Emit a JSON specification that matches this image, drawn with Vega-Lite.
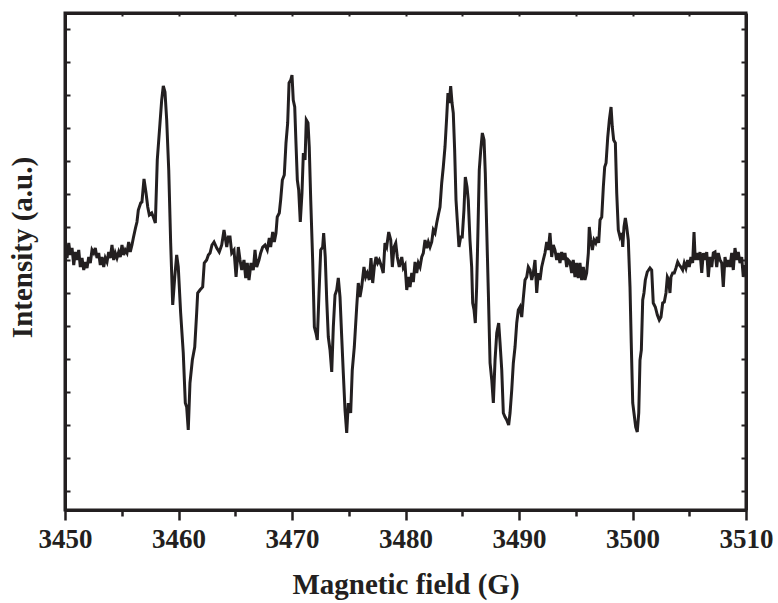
{
 "$schema": "https://vega.github.io/schema/vega-lite/v6.json",
 "width": 681, "height": 497,
 "autosize": {"type": "none"},
 "padding": {"left": 65, "top": 13, "right": 32, "bottom": 93},
 "background": "white",
 "config": {"view": {"stroke": "#231f20", "strokeWidth": 3}, "font": "Liberation Serif"},
 "data": {"values": [
{"field":3450.03,"intensity":265},{"field":3450.18,"intensity":252},{"field":3450.33,"intensity":267},{"field":3450.47,"intensity":255},{"field":3450.62,"intensity":262},{"field":3450.77,"intensity":245},{"field":3450.91,"intensity":258},{"field":3451.06,"intensity":250},{"field":3451.21,"intensity":260},{"field":3451.35,"intensity":243},{"field":3451.50,"intensity":252},{"field":3451.65,"intensity":240},{"field":3451.79,"intensity":248},{"field":3451.94,"intensity":242},{"field":3452.09,"intensity":253},{"field":3452.23,"intensity":247},{"field":3452.38,"intensity":260},{"field":3452.53,"intensity":257},{"field":3452.67,"intensity":262},{"field":3452.82,"intensity":252},{"field":3452.97,"intensity":257},{"field":3453.11,"intensity":245},{"field":3453.26,"intensity":253},{"field":3453.41,"intensity":243},{"field":3453.55,"intensity":252},{"field":3453.70,"intensity":248},{"field":3453.85,"intensity":258},{"field":3453.99,"intensity":252},{"field":3454.14,"intensity":265},{"field":3454.29,"intensity":250},{"field":3454.43,"intensity":257},{"field":3454.58,"intensity":252},{"field":3454.73,"intensity":258},{"field":3454.87,"intensity":253},{"field":3455.02,"intensity":265},{"field":3455.17,"intensity":255},{"field":3455.31,"intensity":260},{"field":3455.46,"intensity":257},{"field":3455.61,"intensity":268},{"field":3455.75,"intensity":258},{"field":3455.90,"intensity":265},{"field":3456.02,"intensity":272},{"field":3456.21,"intensity":282},{"field":3456.34,"intensity":288},{"field":3456.46,"intensity":300},{"field":3456.67,"intensity":307},{"field":3456.78,"intensity":308},{"field":3456.96,"intensity":331},{"field":3457.14,"intensity":317},{"field":3457.29,"intensity":303},{"field":3457.43,"intensity":295},{"field":3457.64,"intensity":297},{"field":3457.78,"intensity":293},{"field":3457.96,"intensity":287},{"field":3458.13,"intensity":350},{"field":3458.37,"intensity":387},{"field":3458.52,"intensity":410},{"field":3458.66,"intensity":424},{"field":3458.81,"intensity":418},{"field":3458.96,"intensity":390},{"field":3459.14,"intensity":340},{"field":3459.31,"intensity":267},{"field":3459.49,"intensity":205},{"field":3459.67,"intensity":233},{"field":3459.84,"intensity":255},{"field":3459.98,"intensity":243},{"field":3460.19,"intensity":197},{"field":3460.42,"intensity":157},{"field":3460.60,"intensity":107},{"field":3460.72,"intensity":103},{"field":3460.86,"intensity":80},{"field":3461.01,"intensity":127},{"field":3461.22,"intensity":150},{"field":3461.43,"intensity":163},{"field":3461.60,"intensity":197},{"field":3461.69,"intensity":217},{"field":3461.89,"intensity":220},{"field":3462.13,"intensity":223},{"field":3462.27,"intensity":247},{"field":3462.48,"intensity":250},{"field":3462.63,"intensity":255},{"field":3462.78,"intensity":257},{"field":3462.95,"intensity":265},{"field":3463.13,"intensity":268},{"field":3463.37,"intensity":262},{"field":3463.59,"intensity":258},{"field":3463.81,"intensity":265},{"field":3464.01,"intensity":280},{"field":3464.25,"intensity":263},{"field":3464.39,"intensity":273},{"field":3464.54,"intensity":273},{"field":3464.69,"intensity":257},{"field":3464.89,"intensity":260},{"field":3465.07,"intensity":233},{"field":3465.27,"intensity":263},{"field":3465.42,"intensity":250},{"field":3465.57,"intensity":240},{"field":3465.77,"intensity":250},{"field":3465.92,"intensity":232},{"field":3466.06,"intensity":247},{"field":3466.21,"intensity":230},{"field":3466.39,"intensity":247},{"field":3466.59,"intensity":240},{"field":3466.74,"intensity":260},{"field":3466.89,"intensity":243},{"field":3467.09,"intensity":250},{"field":3467.24,"intensity":257},{"field":3467.42,"intensity":263},{"field":3467.62,"intensity":265},{"field":3467.82,"intensity":260},{"field":3468.00,"intensity":272},{"field":3468.12,"intensity":263},{"field":3468.30,"intensity":278},{"field":3468.44,"intensity":268},{"field":3468.59,"intensity":277},{"field":3468.70,"intensity":293},{"field":3468.88,"intensity":297},{"field":3469.00,"intensity":310},{"field":3469.15,"intensity":330},{"field":3469.32,"intensity":335},{"field":3469.47,"intensity":367},{"field":3469.62,"intensity":387},{"field":3469.74,"intensity":427},{"field":3469.89,"intensity":430},{"field":3470.00,"intensity":435},{"field":3470.11,"intensity":410},{"field":3470.24,"intensity":403},{"field":3470.35,"intensity":367},{"field":3470.47,"intensity":330},{"field":3470.59,"intensity":320},{"field":3470.73,"intensity":288},{"field":3470.88,"intensity":317},{"field":3471.00,"intensity":357},{"field":3471.15,"intensity":350},{"field":3471.26,"intensity":390},{"field":3471.41,"intensity":387},{"field":3471.52,"intensity":363},{"field":3471.65,"intensity":310},{"field":3471.82,"intensity":250},{"field":3471.97,"intensity":183},{"field":3472.11,"intensity":177},{"field":3472.23,"intensity":170},{"field":3472.38,"intensity":217},{"field":3472.53,"intensity":260},{"field":3472.70,"intensity":263},{"field":3472.79,"intensity":277},{"field":3472.93,"intensity":253},{"field":3473.06,"intensity":210},{"field":3473.20,"intensity":173},{"field":3473.35,"intensity":160},{"field":3473.50,"intensity":138},{"field":3473.64,"intensity":183},{"field":3473.79,"intensity":215},{"field":3473.94,"intensity":220},{"field":3474.08,"intensity":232},{"field":3474.23,"intensity":213},{"field":3474.38,"intensity":173},{"field":3474.52,"intensity":137},{"field":3474.67,"intensity":100},{"field":3474.82,"intensity":77},{"field":3474.96,"intensity":107},{"field":3475.17,"intensity":97},{"field":3475.31,"intensity":140},{"field":3475.49,"intensity":163},{"field":3475.70,"intensity":203},{"field":3475.84,"intensity":227},{"field":3475.99,"intensity":213},{"field":3476.14,"intensity":223},{"field":3476.34,"intensity":243},{"field":3476.49,"intensity":233},{"field":3476.63,"intensity":237},{"field":3476.81,"intensity":230},{"field":3476.96,"intensity":252},{"field":3477.11,"intensity":227},{"field":3477.25,"intensity":243},{"field":3477.40,"intensity":253},{"field":3477.55,"intensity":247},{"field":3477.69,"intensity":250},{"field":3477.90,"intensity":243},{"field":3478.04,"intensity":237},{"field":3478.19,"intensity":267},{"field":3478.34,"intensity":263},{"field":3478.52,"intensity":278},{"field":3478.70,"intensity":270},{"field":3478.84,"intensity":243},{"field":3478.99,"intensity":263},{"field":3479.14,"intensity":267},{"field":3479.28,"intensity":253},{"field":3479.45,"intensity":243},{"field":3479.67,"intensity":253},{"field":3479.81,"intensity":242},{"field":3479.96,"intensity":245},{"field":3480.11,"intensity":220},{"field":3480.25,"intensity":233},{"field":3480.40,"intensity":223},{"field":3480.55,"intensity":237},{"field":3480.69,"intensity":228},{"field":3480.84,"intensity":248},{"field":3480.99,"intensity":237},{"field":3481.13,"intensity":247},{"field":3481.28,"intensity":243},{"field":3481.43,"intensity":253},{"field":3481.57,"intensity":257},{"field":3481.72,"intensity":270},{"field":3481.87,"intensity":262},{"field":3482.01,"intensity":268},{"field":3482.16,"intensity":263},{"field":3482.31,"intensity":268},{"field":3482.45,"intensity":280},{"field":3482.60,"intensity":277},{"field":3482.75,"intensity":287},{"field":3482.89,"intensity":295},{"field":3483.04,"intensity":303},{"field":3483.19,"intensity":327},{"field":3483.33,"intensity":343},{"field":3483.48,"intensity":363},{"field":3483.63,"intensity":393},{"field":3483.74,"intensity":417},{"field":3483.86,"intensity":407},{"field":3483.98,"intensity":424},{"field":3484.10,"intensity":407},{"field":3484.21,"intensity":397},{"field":3484.33,"intensity":360},{"field":3484.45,"intensity":310},{"field":3484.56,"intensity":290},{"field":3484.71,"intensity":263},{"field":3484.86,"intensity":273},{"field":3485.00,"intensity":273},{"field":3485.15,"intensity":300},{"field":3485.27,"intensity":333},{"field":3485.42,"intensity":323},{"field":3485.53,"intensity":310},{"field":3485.68,"intensity":270},{"field":3485.83,"intensity":243},{"field":3485.92,"intensity":207},{"field":3486.04,"intensity":200},{"field":3486.15,"intensity":187},{"field":3486.27,"intensity":223},{"field":3486.39,"intensity":283},{"field":3486.50,"intensity":340},{"field":3486.63,"intensity":360},{"field":3486.77,"intensity":377},{"field":3486.92,"intensity":370},{"field":3487.03,"intensity":337},{"field":3487.15,"intensity":283},{"field":3487.30,"intensity":217},{"field":3487.45,"intensity":147},{"field":3487.60,"intensity":130},{"field":3487.74,"intensity":107},{"field":3487.89,"intensity":150},{"field":3488.04,"intensity":177},{"field":3488.21,"intensity":187},{"field":3488.33,"intensity":167},{"field":3488.48,"intensity":140},{"field":3488.62,"intensity":97},{"field":3488.77,"intensity":93},{"field":3488.92,"intensity":90},{"field":3489.09,"intensity":85},{"field":3489.21,"intensity":97},{"field":3489.36,"intensity":120},{"field":3489.50,"intensity":147},{"field":3489.65,"intensity":163},{"field":3489.80,"intensity":187},{"field":3489.94,"intensity":200},{"field":3490.09,"intensity":203},{"field":3490.24,"intensity":193},{"field":3490.38,"intensity":212},{"field":3490.53,"intensity":230},{"field":3490.68,"intensity":233},{"field":3490.82,"intensity":243},{"field":3490.97,"intensity":240},{"field":3491.12,"intensity":230},{"field":3491.26,"intensity":237},{"field":3491.41,"intensity":250},{"field":3491.56,"intensity":217},{"field":3491.70,"intensity":237},{"field":3491.85,"intensity":230},{"field":3492.00,"intensity":243},{"field":3492.14,"intensity":250},{"field":3492.29,"intensity":257},{"field":3492.44,"intensity":268},{"field":3492.58,"intensity":260},{"field":3492.73,"intensity":277},{"field":3492.88,"intensity":253},{"field":3493.02,"intensity":265},{"field":3493.17,"intensity":260},{"field":3493.32,"intensity":250},{"field":3493.46,"intensity":257},{"field":3493.61,"intensity":247},{"field":3493.76,"intensity":258},{"field":3493.90,"intensity":250},{"field":3494.05,"intensity":257},{"field":3494.20,"intensity":243},{"field":3494.34,"intensity":250},{"field":3494.49,"intensity":248},{"field":3494.64,"intensity":237},{"field":3494.78,"intensity":250},{"field":3494.93,"intensity":233},{"field":3495.08,"intensity":247},{"field":3495.22,"intensity":232},{"field":3495.37,"intensity":247},{"field":3495.52,"intensity":230},{"field":3495.67,"intensity":243},{"field":3495.81,"intensity":230},{"field":3495.96,"intensity":237},{"field":3496.11,"intensity":257},{"field":3496.19,"intensity":283},{"field":3496.32,"intensity":270},{"field":3496.46,"intensity":260},{"field":3496.61,"intensity":270},{"field":3496.76,"intensity":267},{"field":3496.90,"intensity":273},{"field":3497.02,"intensity":267},{"field":3497.14,"intensity":290},{"field":3497.29,"intensity":293},{"field":3497.43,"intensity":323},{"field":3497.55,"intensity":343},{"field":3497.67,"intensity":347},{"field":3497.82,"intensity":373},{"field":3497.96,"intensity":390},{"field":3498.11,"intensity":403},{"field":3498.22,"intensity":383},{"field":3498.34,"intensity":370},{"field":3498.49,"intensity":367},{"field":3498.61,"intensity":317},{"field":3498.75,"intensity":280},{"field":3498.90,"intensity":273},{"field":3499.05,"intensity":277},{"field":3499.14,"intensity":263},{"field":3499.25,"intensity":283},{"field":3499.37,"intensity":292},{"field":3499.49,"intensity":283},{"field":3499.63,"intensity":270},{"field":3499.78,"intensity":223},{"field":3499.89,"intensity":167},{"field":3500.02,"intensity":107},{"field":3500.13,"intensity":97},{"field":3500.28,"intensity":83},{"field":3500.42,"intensity":78},{"field":3500.55,"intensity":97},{"field":3500.66,"intensity":150},{"field":3500.78,"intensity":160},{"field":3500.90,"intensity":210},{"field":3501.01,"intensity":217},{"field":3501.13,"intensity":230},{"field":3501.30,"intensity":238},{"field":3501.54,"intensity":242},{"field":3501.69,"intensity":240},{"field":3501.83,"intensity":207},{"field":3502.01,"intensity":203},{"field":3502.19,"intensity":195},{"field":3502.36,"intensity":190},{"field":3502.51,"intensity":193},{"field":3502.66,"intensity":207},{"field":3502.80,"intensity":208},{"field":3502.95,"intensity":217},{"field":3503.07,"intensity":233},{"field":3503.19,"intensity":230},{"field":3503.30,"intensity":217},{"field":3503.39,"intensity":233},{"field":3503.54,"intensity":237},{"field":3503.68,"intensity":237},{"field":3503.83,"intensity":242},{"field":3503.98,"intensity":248},{"field":3504.12,"intensity":245},{"field":3504.27,"intensity":243},{"field":3504.42,"intensity":240},{"field":3504.56,"intensity":247},{"field":3504.71,"intensity":242},{"field":3504.86,"intensity":250},{"field":3505.00,"intensity":243},{"field":3505.15,"intensity":253},{"field":3505.30,"intensity":247},{"field":3505.42,"intensity":278},{"field":3505.53,"intensity":250},{"field":3505.66,"intensity":257},{"field":3505.80,"intensity":250},{"field":3505.95,"intensity":258},{"field":3506.10,"intensity":237},{"field":3506.24,"intensity":257},{"field":3506.39,"intensity":250},{"field":3506.54,"intensity":258},{"field":3506.68,"intensity":233},{"field":3506.83,"intensity":253},{"field":3506.98,"intensity":243},{"field":3507.12,"intensity":257},{"field":3507.27,"intensity":258},{"field":3507.42,"intensity":243},{"field":3507.56,"intensity":257},{"field":3507.71,"intensity":250},{"field":3507.86,"intensity":247},{"field":3508.00,"intensity":223},{"field":3508.15,"intensity":253},{"field":3508.30,"intensity":243},{"field":3508.44,"intensity":250},{"field":3508.59,"intensity":243},{"field":3508.74,"intensity":257},{"field":3508.88,"intensity":240},{"field":3509.03,"intensity":262},{"field":3509.18,"intensity":250},{"field":3509.32,"intensity":258},{"field":3509.47,"intensity":247},{"field":3509.62,"intensity":253},{"field":3509.76,"intensity":233},{"field":3509.91,"intensity":245}
 ]},
 "layer": [
  {
   "mark": {"type": "line", "color": "#231f20", "strokeWidth": 3, "clip": true},
   "encoding": {
    "x": {"field": "field", "type": "quantitative",
     "scale": {"domain": [3450, 3510], "nice": false, "zero": false},
     "axis": {"orient": "bottom", "title": "Magnetic field (G)",
      "values": [3450,3455,3460,3465,3470,3475,3480,3485,3490,3495,3500,3505,3510],
      "labelExpr": "datum.value % 10 === 0 ? datum.label : ''",
      "format": "d",
      "grid": false, "domainColor": "#231f20", "domainWidth": 3,
      "tickColor": "#231f20", "tickWidth": 2.5,
      "tickSize": {"condition": {"test": "datum.value % 10 === 0", "value": 10}, "value": 6},
      "labelFont": "Liberation Serif", "labelFontSize": 27, "labelFontWeight": "bold", "labelColor": "#231f20",
      "labelBaseline": "alphabetic", "labelPadding": 27, "labelFlush": false, "labelOverlap": false,
      "titleFont": "Liberation Serif", "titleFontSize": 29, "titleFontWeight": "bold", "titleColor": "#231f20",
      "titleBaseline": "alphabetic", "titleY": 83}},
    "y": {"field": "intensity", "type": "quantitative",
     "scale": {"domain": [0, 497], "nice": false, "zero": false},
     "axis": {"orient": "left", "title": "Intensity (a.u.)",
      "values": [19,52,85,118,151,184,217,250,283,316,349,382,415,448,481],
      "labels": false, "grid": false, "domainColor": "#231f20", "domainWidth": 3,
      "tickColor": "#231f20", "tickWidth": 2, "tickSize": -5,
      "titleFont": "Liberation Serif", "titleFontSize": 29, "titleFontWeight": "bold", "titleColor": "#231f20",
      "titleBaseline": "alphabetic", "titleAngle": -90, "titleX": -34, "titleY": 234, "titleAlign": "center"}}
   }
  },
  {
   "mark": {"type": "line", "strokeOpacity": 0},
   "encoding": {
    "x": {"field": "field", "type": "quantitative",
     "scale": {"domain": [3450, 3510], "nice": false, "zero": false},
     "axis": {"orient": "top", "title": null, "labels": false, "grid": false,
      "values": [3455,3460,3465,3470,3475,3480,3485,3490,3495,3500,3505],
      "domainColor": "#231f20", "domainWidth": 3, "tickColor": "#231f20", "tickWidth": 2, "tickSize": -3}},
    "y": {"field": "intensity", "type": "quantitative",
     "scale": {"domain": [0, 497], "nice": false, "zero": false},
     "axis": {"orient": "right", "title": null, "labels": false, "grid": false,
      "values": [19,52,85,118,151,184,217,250,283,316,349,382,415,448,481],
      "domainColor": "#231f20", "domainWidth": 3, "tickColor": "#231f20", "tickWidth": 2, "tickSize": -5}}
   }
  }
 ],
 "resolve": {"axis": {"x": "independent", "y": "independent"}}
}
